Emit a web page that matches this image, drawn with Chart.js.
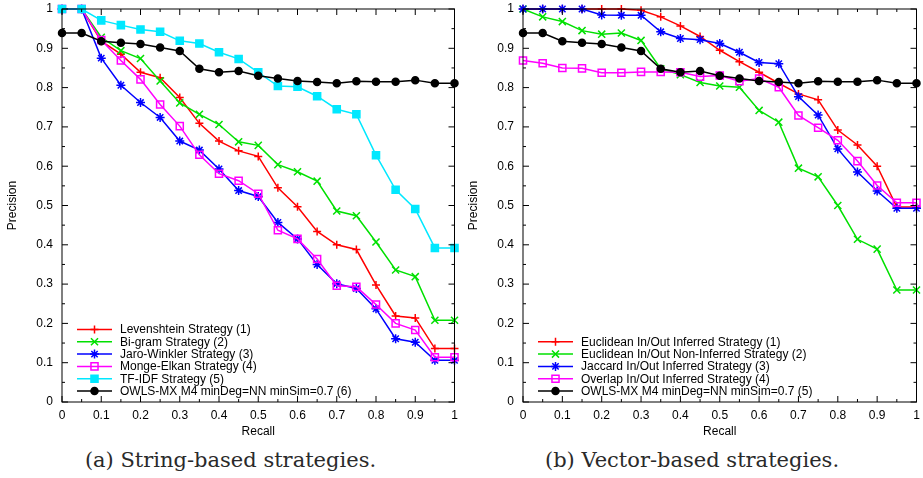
<!DOCTYPE html>
<html>
<head>
<meta charset="utf-8">
<script src="https://cdn.jsdelivr.net/npm/chart.js@4/dist/chart.umd.min.js"></script>
<style>
  html, body { margin: 0; padding: 0; background: #fff; }
  #page { position: relative; width: 923px; height: 478px; overflow: hidden; }
  .panel { position: absolute; top: 0; height: 478px; }
  .panel canvas { display: block; }
  .caption {
    position: absolute; left: 0; right: 0; top: 447px; height: 26px;
    line-height: 26px; text-align: center;
    font-family: "DejaVu Serif", "Liberation Serif", serif; font-size: 21px; color: #2a2a2a;
  }
</style>
</head>
<body>
<div id="page">
  <div class="panel" style="left:0;width:461px">
    <canvas id="chartA" width="461" height="440"></canvas>
    <div class="caption">(a) String-based strategies.</div>
  </div>
  <div class="panel" style="left:461px;width:462px">
    <canvas id="chartB" width="462" height="440"></canvas>
    <div class="caption">(b) Vector-based strategies.</div>
  </div>
</div>
<script>
// recall levels shared by every curve
const recall = [0, 0.05, 0.1, 0.15, 0.2, 0.25, 0.3, 0.35, 0.4, 0.45, 0.5,
                0.55, 0.6, 0.65, 0.7, 0.75, 0.8, 0.85, 0.9, 0.95, 1];

const xTickLabels = ['0', '0.1', '0.2', '0.3', '0.4', '0.5', '0.6', '0.7', '0.8', '0.9', '1'];
const yTickLabels = ['0', '0.1', '0.2', '0.3', '0.4', '0.5', '0.6', '0.7', '0.8', '0.9', '1'];

// (a) string-based strategies
const levenshtein = [1, 1, 0.918, 0.885, 0.839, 0.825, 0.775, 0.709, 0.664, 0.639, 0.625,
                     0.545, 0.497, 0.434, 0.400, 0.388, 0.298, 0.219, 0.214, 0.136, 0.136];
const bigram      = [1, 1, 0.928, 0.894, 0.874, 0.817, 0.761, 0.732, 0.706, 0.662, 0.653,
                     0.604, 0.586, 0.562, 0.486, 0.474, 0.407, 0.336, 0.319, 0.208, 0.208];
const jaroWinkler = [1, 1, 0.875, 0.806, 0.762, 0.724, 0.664, 0.641, 0.593, 0.538, 0.523,
                     0.457, 0.415, 0.350, 0.301, 0.289, 0.237, 0.161, 0.152, 0.106, 0.106];
const mongeElkan  = [1, 1, 0.921, 0.869, 0.821, 0.757, 0.702, 0.629, 0.581, 0.563, 0.530,
                     0.437, 0.415, 0.364, 0.296, 0.293, 0.248, 0.200, 0.183, 0.114, 0.114];
const tfidf       = [1, 1, 0.971, 0.959, 0.948, 0.942, 0.919, 0.912, 0.890, 0.873, 0.839,
                     0.804, 0.802, 0.778, 0.745, 0.732, 0.628, 0.540, 0.491, 0.392, 0.392];
const owlsMx      = [0.939, 0.939, 0.918, 0.914, 0.911, 0.902, 0.893, 0.848, 0.839, 0.842, 0.830,
                     0.823, 0.817, 0.814, 0.811, 0.816, 0.815, 0.815, 0.819, 0.811, 0.811];

// (b) vector-based strategies
const euclidInferred    = [1, 1, 1, 1, 1, 1, 0.997, 0.980, 0.957, 0.930, 0.895,
                           0.866, 0.839, 0.811, 0.784, 0.769, 0.692, 0.654, 0.600, 0.496, 0.496];
const euclidNonInferred = [1, 0.980, 0.968, 0.945, 0.936, 0.939, 0.920, 0.848, 0.833, 0.813, 0.804,
                           0.801, 0.742, 0.712, 0.595, 0.573, 0.500, 0.414, 0.389, 0.285, 0.285];
const jaccardInferred   = [1, 1, 1, 1, 0.985, 0.984, 0.984, 0.942, 0.925, 0.922, 0.912,
                           0.890, 0.864, 0.861, 0.777, 0.730, 0.644, 0.585, 0.537, 0.493, 0.493];
const overlapInferred   = [0.869, 0.862, 0.850, 0.849, 0.838, 0.838, 0.840, 0.840, 0.839, 0.828, 0.831,
                           0.816, 0.823, 0.801, 0.729, 0.698, 0.666, 0.613, 0.551, 0.507, 0.507];

const SANS = '"Liberation Sans", Arial, Helvetica, sans-serif';

// gnuplot-like point styles
const STYLE = {
  red:     {color: '#ff0000', point: 'cross',    radius: 4,   fill: '#ff0000'},
  green:   {color: '#00e000', point: 'crossRot', radius: 5,   fill: '#00e000'},
  blue:    {color: '#0000ff', point: 'star',     radius: 4.5, fill: '#0000ff'},
  magenta: {color: '#ff00ff', point: 'rect',     radius: 5,   fill: 'rgba(0,0,0,0)'},
  cyan:    {color: '#00e8ff', point: 'rect',     radius: 5,   fill: '#00e8ff'},
  black:   {color: '#000000', point: 'circle',   radius: 3.5, fill: '#000000'}
};

function series(label, values, style, idx, total) {
  const s = STYLE[style];
  return {
    label: label,
    data: recall.map((r, i) => ({x: r, y: values[i]})),
    borderColor: s.color,
    backgroundColor: s.fill,
    borderWidth: 1.5,
    pointStyle: s.point,
    pointRadius: s.radius,
    pointBorderWidth: 1.5,
    pointBorderColor: s.color,
    pointBackgroundColor: s.fill,
    tension: 0,
    clip: false,
    order: total - 1 - idx   // later curves on top, as gnuplot does
  };
}

// box border with inward major / minor ticks on all four sides
const frame = {
  id: 'frame',
  afterDraw(chart) {
    const {ctx, chartArea: a, scales} = chart;
    ctx.save();
    ctx.strokeStyle = '#000';
    ctx.lineWidth = 1;
    ctx.strokeRect(a.left, a.top, a.right - a.left, a.bottom - a.top);
    ctx.beginPath();
    for (let i = 0; i <= 20; i++) {
      const len = i % 2 === 0 ? 6 : 3;
      const px = scales.x.getPixelForValue(i / 20);
      ctx.moveTo(px, a.bottom); ctx.lineTo(px, a.bottom - len);
      ctx.moveTo(px, a.top);    ctx.lineTo(px, a.top + len);
      const py = scales.y.getPixelForValue(i / 20);
      ctx.moveTo(a.left, py);  ctx.lineTo(a.left + len, py);
      ctx.moveTo(a.right, py); ctx.lineTo(a.right - len, py);
    }
    ctx.stroke();
    ctx.restore();
  }
};

// legend inside the plot, bottom left: line sample with marker, then label
const keyBox = {
  id: 'keyBox',
  afterDatasetsDraw(chart) {
    const {ctx, chartArea: a} = chart;
    const sets = chart.data.datasets;
    const n = sets.length;
    ctx.save();
    sets.forEach((ds, i) => {
      const y = a.bottom - 11 - (n - 1 - i) * 12.3;
      const x0 = a.left + 15, x1 = a.left + 50;
      ctx.strokeStyle = ds.borderColor;
      ctx.lineWidth = 1.5;
      ctx.beginPath(); ctx.moveTo(x0, y); ctx.lineTo(x1, y); ctx.stroke();
      ctx.fillStyle = ds.pointBackgroundColor;
      Chart.helpers.drawPoint(ctx, {
        pointStyle: ds.pointStyle, rotation: 0,
        radius: ds.pointRadius, borderWidth: 1.5
      }, (x0 + x1) / 2, y);
      ctx.fillStyle = '#000';
      ctx.font = '12px ' + SANS;
      ctx.textBaseline = 'middle';
      ctx.textAlign = 'left';
      ctx.fillText(ds.label, a.left + 58, y + 0.5);
    });
    ctx.restore();
  }
};

function makeChart(id, datasets, rightPad) {
  const font = {family: SANS, size: 12};
  return new Chart(document.getElementById(id), {
    type: 'line',
    data: {datasets: datasets},
    plugins: [frame, keyBox],
    options: {
      responsive: false,
      devicePixelRatio: 1,
      animation: false,
      layout: {padding: {left: 0, top: 9, right: rightPad, bottom: 0}},
      plugins: {legend: {display: false}, tooltip: {enabled: false}},
      scales: {
        x: {
          type: 'linear', min: 0, max: 1,
          ticks: {stepSize: 0.1, autoSkip: false, maxRotation: 0, padding: 6, color: '#000', font: font,
                  callback: (v, i) => xTickLabels[i]},
          grid: {display: false, drawTicks: false}, border: {display: false},
          title: {display: true, text: 'Recall', color: '#000', font: font, padding: {top: 0, bottom: 1}},
          afterFit: s => { s.height = 38; s.paddingLeft = 0; s.paddingRight = 0; }
        },
        y: {
          min: 0, max: 1,
          ticks: {stepSize: 0.1, padding: 9, color: '#000', font: font,
                  callback: (v, i) => yTickLabels[i]},
          grid: {display: false, drawTicks: false}, border: {display: false},
          title: {display: true, text: 'Precision', color: '#000', font: font, padding: {top: 5, bottom: 0}},
          afterFit: s => { s.width = 62; s.paddingTop = 0; s.paddingBottom = 0; }
        }
      }
    }
  });
}

const stringSets = [
  ['Levenshtein Strategy (1)', levenshtein, 'red'],
  ['Bi-gram Strategy (2)', bigram, 'green'],
  ['Jaro-Winkler Strategy (3)', jaroWinkler, 'blue'],
  ['Monge-Elkan Strategy (4)', mongeElkan, 'magenta'],
  ['TF-IDF Strategy (5)', tfidf, 'cyan'],
  ['OWLS-MX M4 minDeg=NN minSim=0.7 (6)', owlsMx, 'black']
];
const vectorSets = [
  ['Euclidean In/Out Inferred Strategy (1)', euclidInferred, 'red'],
  ['Euclidean In/Out Non-Inferred Strategy (2)', euclidNonInferred, 'green'],
  ['Jaccard In/Out Inferred Strategy (3)', jaccardInferred, 'blue'],
  ['Overlap In/Out Inferred Strategy (4)', overlapInferred, 'magenta'],
  ['OWLS-MX M4 minDeg=NN minSim=0.7 (5)', owlsMx, 'black']
];

makeChart('chartA', stringSets.map((d, i, all) => series(d[0], d[1], d[2], i, all.length)), 5);
makeChart('chartB', vectorSets.map((d, i, all) => series(d[0], d[1], d[2], i, all.length)), 6);
</script>
</body>
</html>
